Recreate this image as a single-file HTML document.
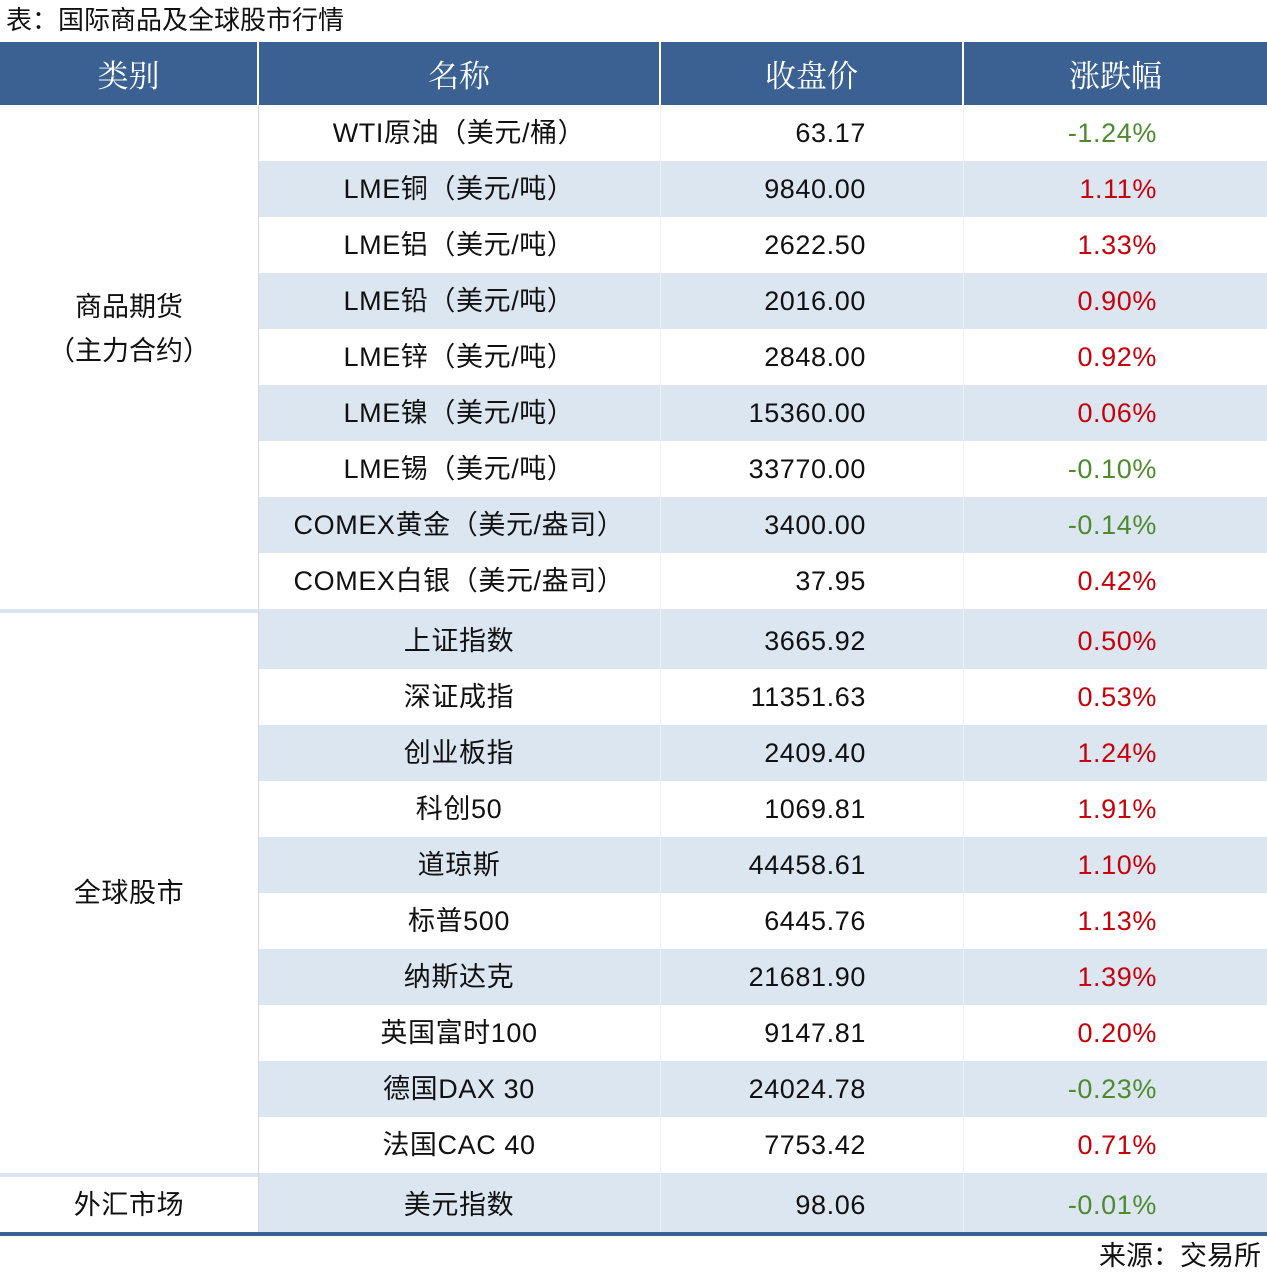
<!DOCTYPE html>
<html><head><meta charset="utf-8"><style>
*{margin:0;padding:0;box-sizing:border-box}
body{width:1267px;height:1278px;background:#fff;position:relative;overflow:hidden;font-family:"Liberation Sans","Noto Sans CJK SC",sans-serif;color:#111}
.a{position:absolute}
.t{position:absolute;font-size:27px;line-height:56px;white-space:nowrap;letter-spacing:0.6px}
.h{position:absolute;top:42px;height:63px;line-height:63px;background:#3a6192;color:#fff;font-size:31px;text-align:center;font-family:"Noto Serif CJK SC",serif}
.sh{position:absolute;left:258px;width:1009px;background:#dce6f1}
.g{color:#4e8a2e}.r{color:#c8000a}
</style></head><body>
<div class="a" style="left:6px;top:4px;font-size:26px;line-height:32px">表：国际商品及全球股市行情</div>
<div class="h" style="left:0;width:257px">类别</div>
<div class="h" style="left:259px;width:400px">名称</div>
<div class="h" style="left:661px;width:301px">收盘价</div>
<div class="h" style="left:964px;width:303px">涨跌幅</div>

<div class="sh" style="top:161px;height:56px"></div>
<div class="sh" style="top:273px;height:56px"></div>
<div class="sh" style="top:385px;height:56px"></div>
<div class="sh" style="top:497px;height:56px"></div>
<div class="a" style="left:0;top:609px;width:1267px;height:4px;background:#dce6f1"></div>
<div class="sh" style="top:613px;height:56px"></div>
<div class="sh" style="top:725px;height:56px"></div>
<div class="sh" style="top:837px;height:56px"></div>
<div class="sh" style="top:949px;height:56px"></div>
<div class="sh" style="top:1061px;height:56px"></div>
<div class="a" style="left:0;top:1173px;width:1267px;height:4px;background:#dce6f1"></div>
<div class="sh" style="top:1177px;height:55px"></div>
<div class="a" style="left:0;top:1232px;width:1267px;height:4px;background:#3a6192"></div>
<div class="a" style="left:258px;top:105px;width:1px;height:1127px;background:#d8d8d8"></div>
<div class="a" style="left:660px;top:105px;width:1px;height:1127px;background:#eef2f8"></div>
<div class="a" style="left:963px;top:105px;width:1px;height:1127px;background:#eef2f8"></div>

<div class="a" style="left:0;width:258px;top:285px;text-align:center;font-size:27px;line-height:44px">商品期货<br>（主力合约）</div>
<div class="t" style="left:0;width:258px;top:865px;text-align:center">全球股市</div>
<div class="t" style="left:0;width:258px;top:1177px;text-align:center">外汇市场</div>

<div class="t" style="left:259px;width:400px;text-align:center;top:105px">WTI原油（美元/桶）</div><div class="t" style="right:401px;top:105px">63.17</div><div class="t g" style="right:110px;top:105px">-1.24%</div>
<div class="t" style="left:259px;width:400px;text-align:center;top:161px">LME铜（美元/吨）</div><div class="t" style="right:401px;top:161px">9840.00</div><div class="t r" style="right:110px;top:161px">1.11%</div>
<div class="t" style="left:259px;width:400px;text-align:center;top:217px">LME铝（美元/吨）</div><div class="t" style="right:401px;top:217px">2622.50</div><div class="t r" style="right:110px;top:217px">1.33%</div>
<div class="t" style="left:259px;width:400px;text-align:center;top:273px">LME铅（美元/吨）</div><div class="t" style="right:401px;top:273px">2016.00</div><div class="t r" style="right:110px;top:273px">0.90%</div>
<div class="t" style="left:259px;width:400px;text-align:center;top:329px">LME锌（美元/吨）</div><div class="t" style="right:401px;top:329px">2848.00</div><div class="t r" style="right:110px;top:329px">0.92%</div>
<div class="t" style="left:259px;width:400px;text-align:center;top:385px">LME镍（美元/吨）</div><div class="t" style="right:401px;top:385px">15360.00</div><div class="t r" style="right:110px;top:385px">0.06%</div>
<div class="t" style="left:259px;width:400px;text-align:center;top:441px">LME锡（美元/吨）</div><div class="t" style="right:401px;top:441px">33770.00</div><div class="t g" style="right:110px;top:441px">-0.10%</div>
<div class="t" style="left:259px;width:400px;text-align:center;top:497px">COMEX黄金（美元/盎司）</div><div class="t" style="right:401px;top:497px">3400.00</div><div class="t g" style="right:110px;top:497px">-0.14%</div>
<div class="t" style="left:259px;width:400px;text-align:center;top:553px">COMEX白银（美元/盎司）</div><div class="t" style="right:401px;top:553px">37.95</div><div class="t r" style="right:110px;top:553px">0.42%</div>

<div class="t" style="left:259px;width:400px;text-align:center;top:613px">上证指数</div><div class="t" style="right:401px;top:613px">3665.92</div><div class="t r" style="right:110px;top:613px">0.50%</div>
<div class="t" style="left:259px;width:400px;text-align:center;top:669px">深证成指</div><div class="t" style="right:401px;top:669px">11351.63</div><div class="t r" style="right:110px;top:669px">0.53%</div>
<div class="t" style="left:259px;width:400px;text-align:center;top:725px">创业板指</div><div class="t" style="right:401px;top:725px">2409.40</div><div class="t r" style="right:110px;top:725px">1.24%</div>
<div class="t" style="left:259px;width:400px;text-align:center;top:781px">科创50</div><div class="t" style="right:401px;top:781px">1069.81</div><div class="t r" style="right:110px;top:781px">1.91%</div>
<div class="t" style="left:259px;width:400px;text-align:center;top:837px">道琼斯</div><div class="t" style="right:401px;top:837px">44458.61</div><div class="t r" style="right:110px;top:837px">1.10%</div>
<div class="t" style="left:259px;width:400px;text-align:center;top:893px">标普500</div><div class="t" style="right:401px;top:893px">6445.76</div><div class="t r" style="right:110px;top:893px">1.13%</div>
<div class="t" style="left:259px;width:400px;text-align:center;top:949px">纳斯达克</div><div class="t" style="right:401px;top:949px">21681.90</div><div class="t r" style="right:110px;top:949px">1.39%</div>
<div class="t" style="left:259px;width:400px;text-align:center;top:1005px">英国富时100</div><div class="t" style="right:401px;top:1005px">9147.81</div><div class="t r" style="right:110px;top:1005px">0.20%</div>
<div class="t" style="left:259px;width:400px;text-align:center;top:1061px">德国DAX 30</div><div class="t" style="right:401px;top:1061px">24024.78</div><div class="t g" style="right:110px;top:1061px">-0.23%</div>
<div class="t" style="left:259px;width:400px;text-align:center;top:1117px">法国CAC 40</div><div class="t" style="right:401px;top:1117px">7753.42</div><div class="t r" style="right:110px;top:1117px">0.71%</div>
<div class="t" style="left:259px;width:400px;text-align:center;top:1177px">美元指数</div><div class="t" style="right:401px;top:1177px">98.06</div><div class="t g" style="right:110px;top:1177px">-0.01%</div>

<div class="a" style="right:6px;top:1240px;font-size:27px;line-height:32px">来源：交易所</div>
</body></html>
